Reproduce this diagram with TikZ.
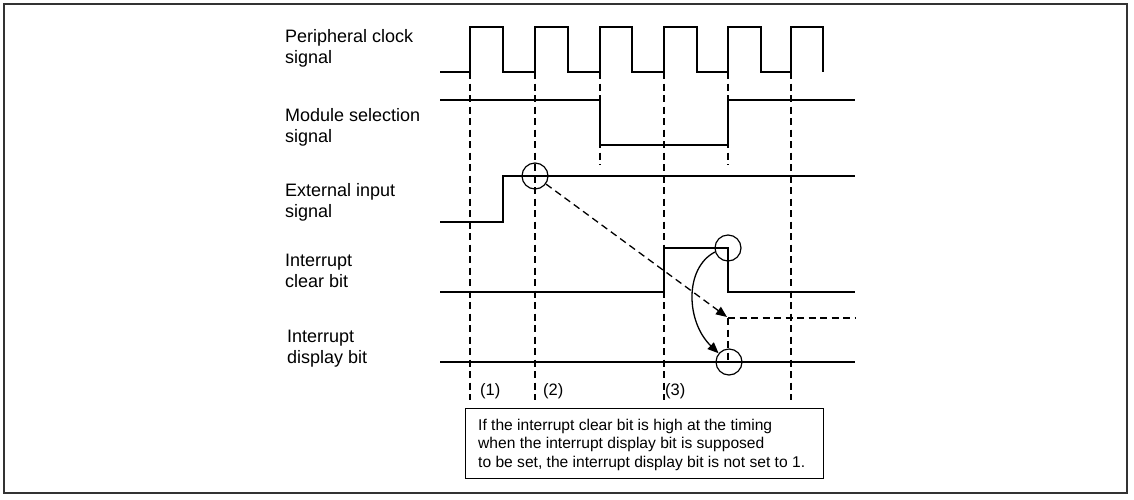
\documentclass[tikz,border=0pt]{standalone}
\usepackage{fontspec}
\setmainfont{Liberation Sans}
\usetikzlibrary{arrows.meta}
\begin{document}
\begin{tikzpicture}[x=1pt,y=-1pt,
  sig/.style={line width=1.4pt, line join=miter},
  guide/.style={line width=1.3pt, dash pattern=on 7pt off 4.5pt},
  lbl/.style={anchor=base west, align=left, inner sep=0pt, font=\fontsize{18}{21.5}\selectfont},
  num/.style={anchor=base west, inner sep=0pt, font=\fontsize{16.5}{20}\selectfont},
  ring/.style={circle, draw, line width=1.2pt, minimum size=26pt, inner sep=0pt},
  tip/.style={-{Triangle[length=11pt,width=9pt]}}
]
\useasboundingbox (0,0) rectangle (1134,499);
\draw[line width=1.6pt, black!80] (4,4) rectangle (1127,493);

% labels (anchor = baseline of the last line)
\node[lbl] (lclk) at (285,63.5) {Peripheral clock\\signal};
\node[lbl] (lmod) at (285,142.5) {Module selection\\signal};
\node[lbl] (lext) at (285,217.5) {External input\\signal};
\node[lbl] (lclr) at (285,287.5) {Interrupt\\clear bit};
\node[lbl] (ldsp) at (287,363.5) {Interrupt\\display bit};

% guide lines
\draw[guide] (470,72) -- (470,400);
\draw[guide] (535,72) -- (535,400);
\draw[guide] (600,72) -- (600,165);
\draw[guide] (664,72) -- (664,400);
\draw[guide] (728,72) -- (728,165);
\draw[guide] (728,318) -- (728,362);
\draw[guide] (791,72) -- (791,400);
\draw[guide] (728,318) -- (855,318);

% signals
\draw[sig] (440,72) -- (470,72) -- (470,27) -- (503,27) -- (503,72) -- (535,72) -- (535,27) -- (568,27) -- (568,72) -- (600,72) -- (600,27) -- (632,27) -- (632,72) -- (664,72) -- (664,27) -- (697,27) -- (697,72) -- (728,72) -- (728,27) -- (761,27) -- (761,72) -- (791,72) -- (791,27) -- (823,27) -- (823,72);
\draw[sig] (440,100) -- (600,100) -- (600,145) -- (728,145) -- (728,100) -- (855,100);
\draw[sig] (440,222) -- (503,222) -- (503,176) -- (855,176);
\draw[sig] (440,292) -- (664,292) -- (664,248) -- (728,248) -- (728,292) -- (855,292);
\draw[sig] (440,362) -- (855,362);

% circles
\node[ring] (c1) at (535,176) {};
\node[ring] (c2) at (728,248) {};
\node[ring] (c3) at (729,362) {};
\coordinate (dtip) at (727,317);

% arrows
\draw[line width=1.3pt, dash pattern=on 7pt off 4.5pt, tip] (c1) -- (dtip);
\draw[line width=1.3pt, tip] (c2.197) .. controls (684,268) and (686,322) .. (c3.140);

% numbers
\node[num] (n1) at (480,395) {(1)};
\node[num] (n2) at (543,395) {(2)};
\node[num] (n3) at (665,395) {(3)};

% note box
\node[draw, line width=1.3pt, minimum width=358pt, minimum height=70pt, anchor=north west, inner sep=0pt] (box) at (465,408) {};
\node[anchor=base west, align=left, inner sep=0pt, font=\fontsize{15.6}{18.5}\selectfont] (note) at (478,467)
 {If the interrupt clear bit is high at the timing\\when the interrupt display bit is supposed\\to be set, the interrupt display bit is not set to 1.};
\end{tikzpicture}
\end{document}
